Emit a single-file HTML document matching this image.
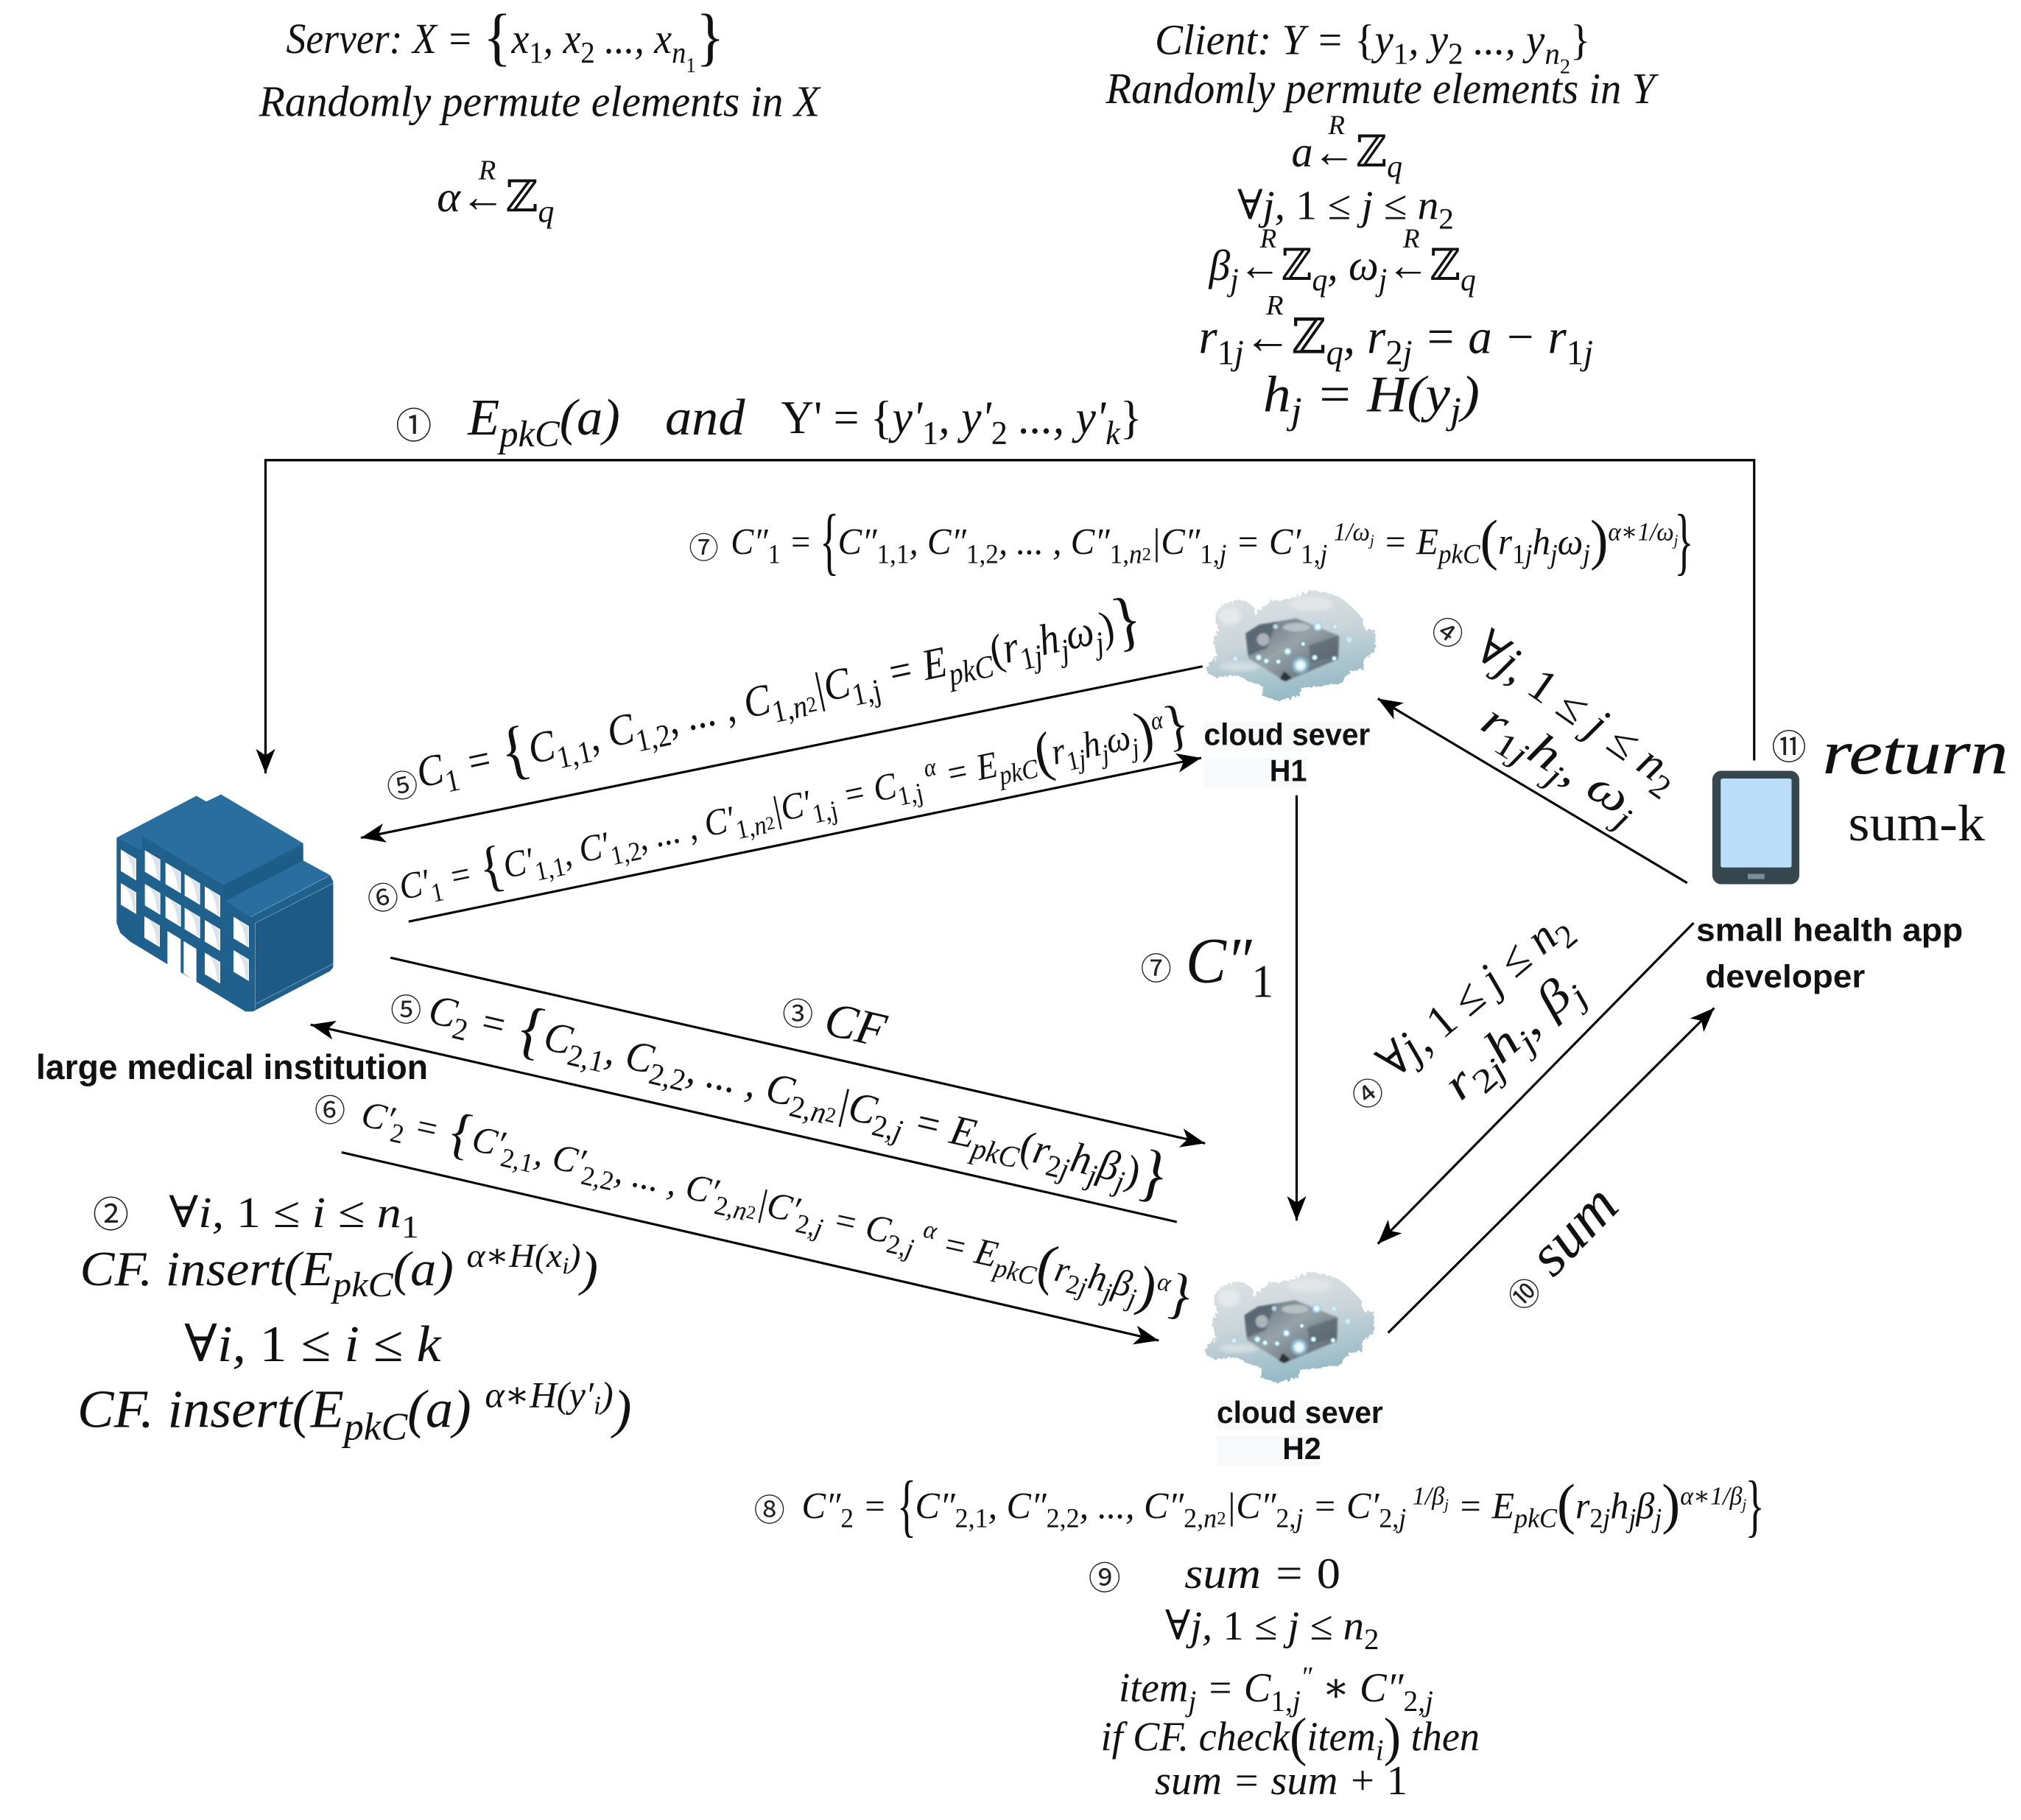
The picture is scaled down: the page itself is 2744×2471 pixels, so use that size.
<!DOCTYPE html>
<html lang="en"><head><meta charset="utf-8"><title>Protocol diagram</title>
<style>
html,body{margin:0;padding:0;background:#fff}
svg{display:block}
text{font-family:"Liberation Serif","DejaVu Serif","Noto Serif CJK SC",serif;font-style:italic;fill:#111;white-space:pre}
.b{font-size:.72em;baseline-shift:-.32em;font-style:normal}
.bi{font-size:.72em;baseline-shift:-.32em}
.p{font-size:.68em;baseline-shift:.55em}
.u{font-style:normal}
.br{font-size:1.5em;font-style:normal;baseline-shift:-.08em;font-weight:200}
.c{font-family:"Noto Sans CJK SC","DejaVu Sans",sans-serif;font-style:normal;text-anchor:middle;fill:#222}
.l{font-family:"Liberation Sans",Arial,sans-serif;font-style:normal;font-weight:bold;fill:#111}
line,polyline{stroke:#000;stroke-width:1.8;fill:none}
</style></head><body>
<svg xmlns="http://www.w3.org/2000/svg" width="2744" height="2471" viewBox="0 0 1568 1412">
<defs>
<marker id="a" markerUnits="userSpaceOnUse" markerWidth="22" markerHeight="20" refX="19" refY="10" orient="auto"><path d="M0,2.5 L19,10 L0,17.5 L5,10Z" fill="#000"/></marker>
<g id="w"><polygon points="0,0 63,38 63,126 0,88" fill="#fff"/><path d="M10,5 Q46,40 50,112 L60,118 L60,40Z" fill="#dbe4eb"/></g>
<radialGradient id="g1" cx=".5" cy=".5" r=".5"><stop offset="0" stop-color="#fff"/><stop offset=".4" stop-color="#d8f2fb"/><stop offset="1" stop-color="#5fc0e0" stop-opacity="0"/></radialGradient>
<linearGradient id="cg" x1="0" y1="0" x2=".3" y2="1"><stop offset="0" stop-color="#e0e4e6"/><stop offset=".5" stop-color="#cbd6da"/><stop offset="1" stop-color="#98bbc7"/></linearGradient>
<linearGradient id="bg" x1="0" y1="0" x2="1" y2="1"><stop offset="0" stop-color="#5d6d78"/><stop offset=".45" stop-color="#98a3a9"/><stop offset="1" stop-color="#4c5963"/></linearGradient>
<filter id="rough" x="-5%" y="-5%" width="110%" height="110%"><feTurbulence type="fractalNoise" baseFrequency=".07" numOctaves="2" seed="4"/><feDisplacementMap in="SourceGraphic" scale="22"/></filter>
<filter id="bl" x="-20%" y="-20%" width="140%" height="140%"><feGaussianBlur stdDeviation="9"/></filter>
<filter id="bs" x="-20%" y="-20%" width="140%" height="140%"><feGaussianBlur stdDeviation="4"/></filter>
<g id="cloud">
<path filter="url(#rough)" d="M55,385 Q70,345 100,330 Q80,290 85,245 L105,230 Q80,170 110,130 Q150,115 185,100 Q220,110 245,130 L255,170 Q275,125 330,105 Q400,105 470,65 Q550,70 600,95 Q650,130 690,180 L700,225 L742,225 L742,310 L695,345 L690,385 L640,395 L600,445 L520,455 L440,465 L430,495 L345,515 L280,495 L285,455 L225,435 L180,410 L100,420 L60,405Z" fill="url(#cg)"/>
<ellipse cx="150" cy="170" rx="45" ry="35" fill="#eef0f1" opacity=".7" filter="url(#bl)"/>
<ellipse cx="480" cy="120" rx="90" ry="28" fill="#e6e9ea" opacity=".8" filter="url(#bl)"/>
<ellipse cx="190" cy="375" rx="80" ry="18" fill="#e2e7e9" opacity=".7" filter="url(#bl)"/>
<polygon points="215,240 270,205 420,178 595,250 590,345 375,435 225,340" fill="url(#bg)" filter="url(#bs)"/>
<polygon points="215,240 270,205 340,195 300,300 225,330" fill="#55646f" opacity=".8" filter="url(#bs)"/>
<polygon points="355,425 378,433 400,420 370,395" fill="#2a3238" filter="url(#bs)"/>
<polygon points="470,290 590,250 590,330 480,360" fill="#56636c" opacity=".65" filter="url(#bs)"/>
<ellipse cx="420" cy="215" rx="55" ry="18" fill="#c2cbcf" opacity=".8" filter="url(#bs)"/>
<circle cx="285" cy="265" r="26" fill="#c6ccd0" opacity=".75" filter="url(#bs)"/>
<circle cx="437" cy="370" r="42" fill="url(#g1)"/><circle cx="508" cy="213" r="24" fill="url(#g1)"/><circle cx="385" cy="313" r="20" fill="url(#g1)"/><circle cx="267" cy="338" r="18" fill="url(#g1)"/><circle cx="298" cy="352" r="15" fill="url(#g1)"/><circle cx="172" cy="343" r="18" fill="url(#g1)" opacity=".7"/><circle cx="635" cy="265" r="22" fill="url(#g1)" opacity=".6"/><circle cx="335" cy="212" r="16" fill="url(#g1)" opacity=".7"/><circle cx="495" cy="338" r="16" fill="url(#g1)"/><circle cx="575" cy="342" r="14" fill="url(#g1)"/><circle cx="578" cy="213" r="16" fill="url(#g1)" opacity=".7"/><circle cx="347" cy="355" r="14" fill="url(#g1)"/><circle cx="448" cy="283" r="12" fill="url(#g1)"/>
</g>
</defs>
<rect width="1568" height="1412" fill="#fff"/>

<!-- header left -->
<text x="222" y="41" font-size="33" textLength="340" lengthAdjust="spacingAndGlyphs">Server: X = <tspan class="br">{</tspan>x<tspan class="b">1</tspan>, x<tspan class="b">2</tspan> ..., x<tspan class="bi">n</tspan><tspan class="b" style="font-size:.5em;baseline-shift:-.9em">1</tspan><tspan class="br">}</tspan></text>
<text x="201" y="90" font-size="34" textLength="435" lengthAdjust="spacingAndGlyphs">Randomly permute elements in X</text>
<text x="378" y="139" font-size="22" text-anchor="middle">R</text>
<text x="339" y="164" font-size="34" textLength="91" lengthAdjust="spacingAndGlyphs">α←<tspan class="u">ℤ</tspan><tspan class="bi">q</tspan></text>

<!-- header right -->
<text x="896" y="42" font-size="33" textLength="338" lengthAdjust="spacingAndGlyphs">Client: Y = <tspan class="u">{</tspan>y<tspan class="b">1</tspan>, y<tspan class="b">2</tspan> ..., y<tspan class="bi">n</tspan><tspan class="b" style="font-size:.5em;baseline-shift:-.9em">2</tspan><tspan class="u">}</tspan></text>
<text x="858" y="80" font-size="34" textLength="426" lengthAdjust="spacingAndGlyphs">Randomly permute elements in Y</text>
<text x="1037" y="104" font-size="21" text-anchor="middle">R</text>
<text x="1002" y="129" font-size="34" textLength="86" lengthAdjust="spacingAndGlyphs">a←<tspan class="u">ℤ</tspan><tspan class="bi">q</tspan></text>
<text x="960" y="170" font-size="32" textLength="168" lengthAdjust="spacingAndGlyphs">∀j, <tspan class="u">1</tspan> ≤ j ≤ n<tspan class="b">2</tspan></text>
<text x="984" y="192" font-size="21" text-anchor="middle">R</text>
<text x="1095" y="192" font-size="21" text-anchor="middle">R</text>
<text x="938" y="217" font-size="34" textLength="207" lengthAdjust="spacingAndGlyphs">β<tspan class="bi">j</tspan>←<tspan class="u">ℤ</tspan><tspan class="bi">q</tspan>, ω<tspan class="bi">j</tspan>←<tspan class="u">ℤ</tspan><tspan class="bi">q</tspan></text>
<text x="989" y="244" font-size="22" text-anchor="middle">R</text>
<text x="930" y="274" font-size="38" textLength="306" lengthAdjust="spacingAndGlyphs">r<tspan class="b">1</tspan><tspan class="bi">j</tspan>←<tspan class="u">ℤ</tspan><tspan class="bi">q</tspan>, r<tspan class="b">2</tspan><tspan class="bi">j</tspan> = a − r<tspan class="b">1</tspan><tspan class="bi">j</tspan></text>
<text x="980" y="319" font-size="40" textLength="168" lengthAdjust="spacingAndGlyphs">h<tspan class="bi">j</tspan> = H(y<tspan class="bi">j</tspan>)</text>

<!-- step 1 -->
<text class="c" x="321" y="340" font-size="28">①</text>
<text x="363" y="337" font-size="40" textLength="118" lengthAdjust="spacingAndGlyphs">E<tspan class="bi">pkC</tspan>(a)</text>
<text x="516" y="337" font-size="40" textLength="62" lengthAdjust="spacingAndGlyphs">and</text>
<text x="606" y="336" font-size="36" textLength="280" lengthAdjust="spacingAndGlyphs"><tspan class="u">Y' = {</tspan>y'<tspan class="b">1</tspan>, y'<tspan class="b">2</tspan> ..., y'<tspan class="bi">k</tspan><tspan class="u">}</tspan></text>

<polyline points="1361,590 1361,357 206,357 206,600" marker-end="url(#a)"/>

<!-- step 7 top -->
<text class="c" x="546" y="433" font-size="23">⑦</text>
<text x="567" y="430" font-size="29" textLength="63" lengthAdjust="spacingAndGlyphs">C″<tspan class="b">1</tspan> =</text>
<text class="u" x="636" y="439" font-size="58" textLength="15" lengthAdjust="spacingAndGlyphs">{</text>
<text x="650" y="430" font-size="29" textLength="652" lengthAdjust="spacingAndGlyphs">C″<tspan class="b">1,1</tspan>, C″<tspan class="b">1,2</tspan>, ... , C″<tspan class="b">1,</tspan><tspan class="bi">n</tspan><tspan class="b" style="font-size:.5em">2</tspan>|C″<tspan class="b">1,</tspan><tspan class="bi">j</tspan> = C′<tspan class="b">1,</tspan><tspan class="bi">j</tspan><tspan class="p"> 1/ω</tspan><tspan class="p" style="font-size:.42em">j</tspan> = E<tspan class="bi">pkC</tspan><tspan class="br">(</tspan>r<tspan class="b">1</tspan><tspan class="bi">j</tspan>h<tspan class="bi">j</tspan>ω<tspan class="bi">j</tspan><tspan class="br">)</tspan><tspan class="p">α∗1/ω</tspan><tspan class="p" style="font-size:.42em">j</tspan></text>
<text class="u" x="1299" y="439" font-size="58" textLength="15" lengthAdjust="spacingAndGlyphs">}</text>

<!-- C1 -->
<text class="c" transform="translate(314,618) rotate(-12)" font-size="24">⑤</text>
<text transform="translate(326,611) rotate(-12)" font-size="34" textLength="574" lengthAdjust="spacingAndGlyphs">C<tspan class="b">1</tspan> = <tspan class="br">{</tspan>C<tspan class="b">1,1</tspan>, C<tspan class="b">1,2</tspan>, ... , C<tspan class="b">1,</tspan><tspan class="bi">n</tspan><tspan class="b" style="font-size:.5em">2</tspan>|C<tspan class="b">1,j</tspan> = E<tspan class="bi">pkC</tspan><tspan class="u">(</tspan>r<tspan class="b">1</tspan><tspan class="bi">j</tspan>h<tspan class="bi">j</tspan>ω<tspan class="bi">j</tspan><tspan class="u">)</tspan><tspan class="br">}</tspan></text>
<line x1="933" y1="517" x2="280" y2="650" marker-end="url(#a)"/>

<!-- C'1 -->
<text class="c" transform="translate(299,705) rotate(-12)" font-size="24">⑥</text>
<text transform="translate(312,698) rotate(-11.7)" font-size="29" textLength="625" lengthAdjust="spacingAndGlyphs">C′<tspan class="b">1</tspan> = <tspan class="br">{</tspan>C′<tspan class="b">1,1</tspan>, C′<tspan class="b">1,2</tspan>, ... , C′<tspan class="b">1,</tspan><tspan class="bi">n</tspan><tspan class="b" style="font-size:.5em">2</tspan>|C′<tspan class="b">1,j</tspan> = C<tspan class="b">1,j</tspan><tspan class="p"> α</tspan> = E<tspan class="bi">pkC</tspan><tspan class="br">(</tspan>r<tspan class="b">1</tspan><tspan class="bi">j</tspan>h<tspan class="bi">j</tspan>ω<tspan class="bi">j</tspan><tspan class="br">)</tspan><tspan class="p">α</tspan><tspan class="br">}</tspan></text>
<line x1="317" y1="715" x2="932" y2="588" marker-end="url(#a)"/>

<!-- CF -->
<line x1="303" y1="743" x2="935" y2="887" marker-end="url(#a)"/>
<text class="c" x="619" y="795" font-size="24">③</text>
<text transform="translate(638,802) rotate(13)" font-size="38" textLength="47" lengthAdjust="spacingAndGlyphs">CF</text>

<!-- C2 -->
<text class="c" transform="translate(315,792)" font-size="24">⑤</text>
<text transform="translate(331,793) rotate(13)" font-size="33" textLength="588" lengthAdjust="spacingAndGlyphs">C<tspan class="b">2</tspan> = <tspan class="br">{</tspan>C<tspan class="b">2,1</tspan>, C<tspan class="b">2,2</tspan>, ... , C<tspan class="b">2,</tspan><tspan class="bi">n</tspan><tspan class="b" style="font-size:.5em">2</tspan>|C<tspan class="b">2,</tspan><tspan class="bi">j</tspan> = E<tspan class="bi">pkC</tspan><tspan class="u">(</tspan>r<tspan class="b">2</tspan><tspan class="bi">j</tspan>h<tspan class="bi">j</tspan>β<tspan class="bi">j</tspan><tspan class="u">)</tspan><tspan class="br">}</tspan></text>
<line x1="913" y1="948" x2="241" y2="795" marker-end="url(#a)"/>

<!-- C'2 -->
<text class="c" x="256" y="870" font-size="24">⑥</text>
<text transform="translate(279,873) rotate(12.6)" font-size="29" textLength="661" lengthAdjust="spacingAndGlyphs">C′<tspan class="b">2</tspan> = <tspan class="br">{</tspan>C′<tspan class="b">2,1</tspan>, C′<tspan class="b">2,2</tspan>, ... , C′<tspan class="b">2,</tspan><tspan class="bi">n</tspan><tspan class="b" style="font-size:.5em">2</tspan>|C′<tspan class="b">2,</tspan><tspan class="bi">j</tspan> = C<tspan class="b">2,</tspan><tspan class="bi">j</tspan><tspan class="p"> α</tspan> = E<tspan class="bi">pkC</tspan><tspan class="br">(</tspan>r<tspan class="b">2</tspan><tspan class="bi">j</tspan>h<tspan class="bi">j</tspan>β<tspan class="bi">j</tspan><tspan class="br">)</tspan><tspan class="p">α</tspan><tspan class="br">}</tspan></text>
<line x1="265" y1="894" x2="899" y2="1040" marker-end="url(#a)"/>

<!-- building -->
<g transform="scale(.57143) translate(120,1040) scale(.33333)">
<polygon points="115,292 440,122 480,145 540,116 875,315 875,385 985,445 997,470 997,820 985,835 670,1000 640,1000 170,715 130,680 115,640" fill="#20608c"/>
<polygon points="115,292 440,122 480,145 218,285 218,345" fill="#2a6c9e"/>
<polygon points="218,285 540,116 875,315 550,485" fill="#2a6d9f"/>
<polygon points="550,485 875,330 875,385 558,550" fill="#1e5c88"/>
<polygon points="558,550 875,385 985,445 660,615" fill="#2a6d9f"/>
<polygon points="680,640 997,478 997,805 680,970" fill="#1d5a85"/>
<polyline points="680,640 680,990" style="stroke:#8fb0c6;stroke-width:2"/>
<polyline points="680,640 997,478" style="stroke:#8fb0c6;stroke-width:2"/>
<polyline points="660,615 985,445" style="stroke:#8fb0c6;stroke-width:2"/>
<polyline points="680,970 997,805" style="stroke:#8fb0c6;stroke-width:2"/>
<use href="#w" x="132" y="340"/><use href="#w" x="132" y="477"/>
<use href="#w" x="230" y="343"/><use href="#w" x="230" y="480"/><use href="#w" x="228" y="612"/>
<use href="#w" x="314" y="393"/><use href="#w" x="314" y="530"/>
<use href="#w" x="392" y="440"/><use href="#w" x="392" y="577"/>
<use href="#w" x="474" y="490"/><use href="#w" x="474" y="627"/><use href="#w" x="474" y="760"/>
<use href="#w" x="591" y="614"/><use href="#w" x="591" y="750"/>
<polygon points="322,672 376,705 376,842 322,808" fill="#fff"/>
<polygon points="388,713 440,745 440,880 388,845" fill="#fff"/>
</g>
<text class="l" x="28" y="837" font-size="27" textLength="304" lengthAdjust="spacingAndGlyphs">large medical institution</text>

<!-- clouds -->
<use href="#cloud" transform="translate(925.7,445.7) scale(.1905)"/>
<rect x="934" y="560" width="129" height="23" fill="#f8f9fa"/><rect x="934" y="588" width="80" height="23" fill="#f8f9fa"/>
<text class="l" x="934" y="578" font-size="24" textLength="129" lengthAdjust="spacingAndGlyphs">cloud sever</text>
<text class="l" x="985" y="606" font-size="24" textLength="29" lengthAdjust="spacingAndGlyphs">H1</text>
<use href="#cloud" transform="translate(924.7,974.7) scale(.1905)"/>
<rect x="944" y="1086" width="129" height="23" fill="#f8f9fa"/><rect x="944" y="1114" width="81" height="23" fill="#f8f9fa"/>
<text class="l" x="944" y="1104" font-size="24" textLength="129" lengthAdjust="spacingAndGlyphs">cloud sever</text>
<text class="l" x="995" y="1132" font-size="24" textLength="30" lengthAdjust="spacingAndGlyphs">H2</text>

<!-- H1 to H2 -->
<line x1="1006" y1="617" x2="1006" y2="947" marker-end="url(#a)"/>
<text class="c" x="897" y="760" font-size="24">⑦</text>
<text x="920" y="762" font-size="50" textLength="68" lengthAdjust="spacingAndGlyphs">C″<tspan class="b">1</tspan></text>

<!-- step 4 upper -->
<line x1="1309" y1="685" x2="1069" y2="542" marker-end="url(#a)"/>
<text class="c" transform="translate(1118,498) rotate(35)" font-size="24">④</text>
<text transform="translate(1142,508) rotate(35)" font-size="36" textLength="185" lengthAdjust="spacingAndGlyphs">∀j, <tspan class="u">1</tspan> ≤ j ≤ n<tspan class="b">2</tspan></text>
<text transform="translate(1147,565) rotate(32)" font-size="36" textLength="137" lengthAdjust="spacingAndGlyphs">r<tspan class="b">1</tspan><tspan class="bi">j</tspan>h<tspan class="bi">j</tspan>, ω<tspan class="bi">j</tspan></text>

<!-- phone -->
<rect x="1328.5" y="598" width="67.5" height="88" rx="7" fill="#37474f"/>
<rect x="1335" y="604" width="55" height="69" rx="1.5" fill="#bbdefb"/>
<rect x="1356" y="678" width="13" height="4" fill="#78909c"/>
<text class="c" x="1388" y="589" font-size="27">⑪</text>
<text x="1414" y="600" font-size="48" textLength="144" lengthAdjust="spacingAndGlyphs" style="stroke:#111;stroke-width:.25">return</text>
<text class="u" x="1434" y="652" font-size="40" textLength="106" lengthAdjust="spacingAndGlyphs">sum-k</text>
<text class="l" x="1316" y="730" font-size="25" textLength="207" lengthAdjust="spacingAndGlyphs">small health app</text>
<text class="l" x="1323" y="766" font-size="25" textLength="124" lengthAdjust="spacingAndGlyphs">developer</text>

<!-- step 4 lower -->
<line x1="1314" y1="716" x2="1069" y2="965" marker-end="url(#a)"/>
<text class="c" transform="translate(1067,855) rotate(-40)" font-size="24">④</text>
<text transform="translate(1082,838) rotate(-40)" font-size="36" textLength="180" lengthAdjust="spacingAndGlyphs">∀j, <tspan class="u">1</tspan> ≤ j ≤ n<tspan class="b">2</tspan></text>
<text transform="translate(1133,855) rotate(-42)" font-size="36" textLength="128" lengthAdjust="spacingAndGlyphs">r<tspan class="b">2</tspan><tspan class="bi">j</tspan>h<tspan class="bi">j</tspan>, β<tspan class="bi">j</tspan></text>

<!-- sum -->
<line x1="1077" y1="1034" x2="1330" y2="782" marker-end="url(#a)"/>
<text class="c" transform="translate(1189,1010) rotate(-45)" font-size="24">⑩</text>
<text transform="translate(1205,992) rotate(-46)" font-size="46" textLength="76" lengthAdjust="spacingAndGlyphs">sum</text>

<!-- step 2 -->
<text class="c" x="86" y="952" font-size="28">②</text>
<text x="131" y="952" font-size="34" textLength="194" lengthAdjust="spacingAndGlyphs">∀i, <tspan class="u">1</tspan> ≤ i ≤ n<tspan class="b">1</tspan></text>
<text x="62" y="997" font-size="38" textLength="402" lengthAdjust="spacingAndGlyphs">CF. insert(E<tspan class="bi">pkC</tspan>(a) <tspan class="p">α∗H(x</tspan><tspan class="p" style="font-size:.48em;baseline-shift:.5em">i</tspan><tspan class="p">)</tspan>)</text>
<text x="143" y="1056" font-size="40" textLength="199" lengthAdjust="spacingAndGlyphs">∀i, <tspan class="u">1</tspan> ≤ i ≤ k</text>
<text x="60" y="1107" font-size="42" textLength="430" lengthAdjust="spacingAndGlyphs">CF. insert(E<tspan class="bi">pkC</tspan>(a) <tspan class="p">α∗H(y′</tspan><tspan class="p" style="font-size:.48em;baseline-shift:.5em">i</tspan><tspan class="p">)</tspan>)</text>

<!-- step 8 -->
<text class="c" x="597" y="1180" font-size="24">⑧</text>
<text x="622" y="1178" font-size="29" textLength="66" lengthAdjust="spacingAndGlyphs">C″<tspan class="b">2</tspan> =</text>
<text class="u" x="696" y="1186" font-size="54" textLength="15" lengthAdjust="spacingAndGlyphs">{</text>
<text x="710" y="1178" font-size="29" textLength="645" lengthAdjust="spacingAndGlyphs">C″<tspan class="b">2,1</tspan>, C″<tspan class="b">2,2</tspan>, ..., C″<tspan class="b">2,</tspan><tspan class="bi">n</tspan><tspan class="b" style="font-size:.5em">2</tspan>|C″<tspan class="b">2,</tspan><tspan class="bi">j</tspan> = C′<tspan class="b">2,</tspan><tspan class="bi">j</tspan><tspan class="p"> 1/β</tspan><tspan class="p" style="font-size:.42em">j</tspan> = E<tspan class="bi">pkC</tspan><tspan class="br">(</tspan>r<tspan class="b">2</tspan><tspan class="bi">j</tspan>h<tspan class="bi">j</tspan>β<tspan class="bi">j</tspan><tspan class="br">)</tspan><tspan class="p">α∗1/β</tspan><tspan class="p" style="font-size:.42em">j</tspan></text>
<text class="u" x="1354" y="1186" font-size="54" textLength="15" lengthAdjust="spacingAndGlyphs">}</text>

<!-- step 9 -->
<text class="c" x="857" y="1233" font-size="25">⑨</text>
<text x="919" y="1232" font-size="34" textLength="121" lengthAdjust="spacingAndGlyphs">sum = <tspan class="u">0</tspan></text>
<text x="904" y="1272" font-size="32" textLength="166" lengthAdjust="spacingAndGlyphs">∀j, <tspan class="u">1</tspan> ≤ j ≤ n<tspan class="b">2</tspan></text>
<text x="868" y="1320" font-size="32" textLength="244" lengthAdjust="spacingAndGlyphs">item<tspan class="bi">j</tspan> = C<tspan class="b">1,</tspan><tspan class="bi">j</tspan><tspan class="p">″</tspan> ∗ C″<tspan class="b">2,</tspan><tspan class="bi">j</tspan></text>
<text x="854" y="1358" font-size="32" textLength="294" lengthAdjust="spacingAndGlyphs">if CF. check<tspan class="br" style="font-size:1.3em">(</tspan>item<tspan class="bi">i</tspan><tspan class="br" style="font-size:1.3em">)</tspan> then</text>
<text x="896" y="1392" font-size="32" textLength="196" lengthAdjust="spacingAndGlyphs">sum = sum + <tspan class="u">1</tspan></text>
</svg>
</body></html>
